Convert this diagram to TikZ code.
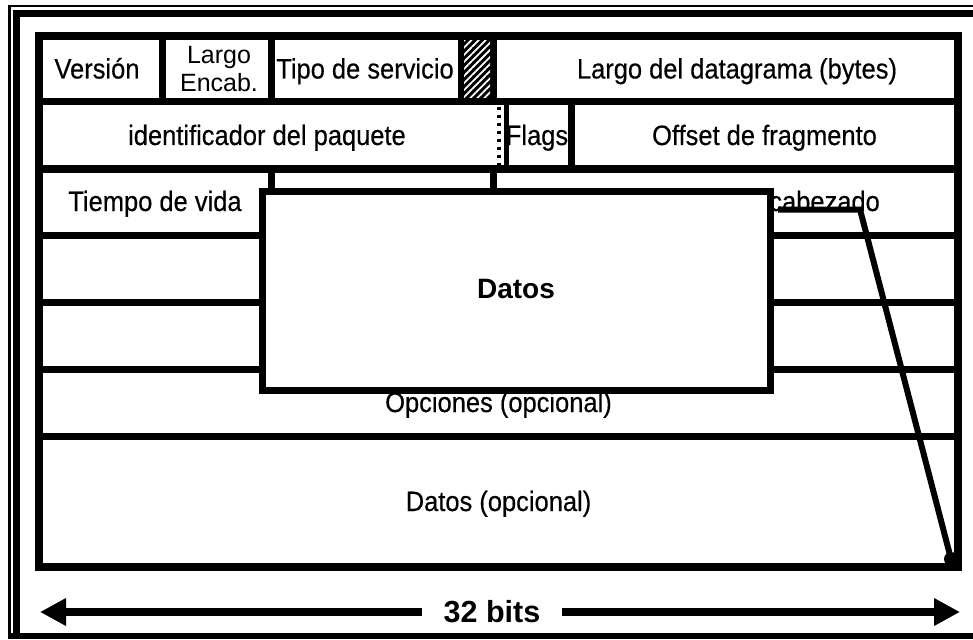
\documentclass[tikz,border=0pt]{standalone}
\usepackage{fontspec}
\setmainfont{Liberation Sans}
\newfontfamily\narf{Liberation Sans}[FakeStretch=0.91,FakeBold=0.4]
\usetikzlibrary{arrows.meta,patterns.meta}
\begin{document}
\begin{tikzpicture}[x=1pt,y=-1pt,
  lw/.style={line width=7pt},
  lbl/.style={font=\narf\fontsize{28}{28}\selectfont, inner sep=0pt, anchor=base},
  smalllbl/.style={font=\fontsize{25}{25}\selectfont, inner sep=0pt, anchor=base},
  boldlbl/.style={font=\bfseries\fontsize{28}{28}\selectfont, inner sep=0pt, anchor=base},
  bigarrow/.style={line width=8pt, -{Triangle[length=26pt,width=26pt]}}]
\useasboundingbox (0,0) rectangle (973,639);
% outer frame
\fill (8,5) rectangle (10.5,639);
\fill (8,5) rectangle (973,7.5);
\fill (12.5,10) rectangle (20,639);
\fill (12.5,10) rectangle (973,17.5);
\fill (8,633) rectangle (973,639);
% table grid
\draw[lw] (39,102) -- (958,102);
\draw[lw] (39,169) -- (958,169);
\draw[lw] (39,235) -- (958,235);
\draw[lw] (39,302) -- (958,302);
\draw[lw] (39,369) -- (958,369);
\draw[lw] (39,436) -- (958,436);
\draw[lw] (162,36) -- (162,102);
\draw[lw] (271,36) -- (271,102);
\fill[black] (457.5,36) rectangle (497,102);
\fill[pattern={Lines[angle=45,distance=5pt,line width=1.8pt]}, pattern color=white] (464,40) rectangle (490,98);
\draw[line width=3.5pt, dash pattern=on 3pt off 5pt] (499,107) -- (499,165);
\draw[line width=5pt] (506,102) -- (506,169);
\draw[lw] (571,102) -- (571,169);
\draw[lw] (271,169) -- (271,195);
\draw[lw] (493,169) -- (493,195);
\draw[line width=8pt] (39,36) rectangle (958,567);
% labels
\node[lbl] (version) at (97,78.5) {Versión};
\node[smalllbl] (largo) at (219,64) {Largo};
\node[smalllbl] (encab) at (219,92) {Encab.};
\node[lbl] (tipo) at (365,78.5) {Tipo de servicio};
\node[lbl] (largodg) at (737,78.5) {Largo del datagrama (bytes)};
\node[lbl] (ident) at (267,145) {identificador del paquete};
\node[lbl] (flags) at (537,145) {Flags};
\node[lbl] (offset) at (764.5,145) {Offset de fragmento};
\node[lbl] (tiempo) at (155,211) {Tiempo de vida};
\node[lbl] (opc) at (498.5,412) {Opciones (opcional)};
\node[lbl] (datosopc) at (498.5,511) {Datos (opcional)};
% Datos box
\draw[line width=7pt, fill=white] (262,191) rectangle (770,390);
\node[boldlbl] (datos) at (516,298) {Datos};
\node[lbl, anchor=base east] (cab) at (880,211) {cabezado};
% connector
\coordinate (ul1) at (778,209.5);
\coordinate (ul2) at (860,209.5);
\coordinate (corner) at (951,559);
\draw[line width=6pt, line join=miter] (ul1) -- (ul2) -- (corner);
\fill (corner) circle (7pt);
% 32 bits arrow
\node[font=\bfseries\fontsize{30.5}{30.5}\selectfont, inner sep=0pt, anchor=base, outer xsep=22pt] (bits) at (492,622) {32 bits};
\coordinate (aL) at (40,612);
\coordinate (aR) at (960,612);
\draw[bigarrow] (bits.west |- aL) -- (aL);
\draw[bigarrow] (bits.east |- aR) -- (aR);
\end{tikzpicture}
\end{document}
